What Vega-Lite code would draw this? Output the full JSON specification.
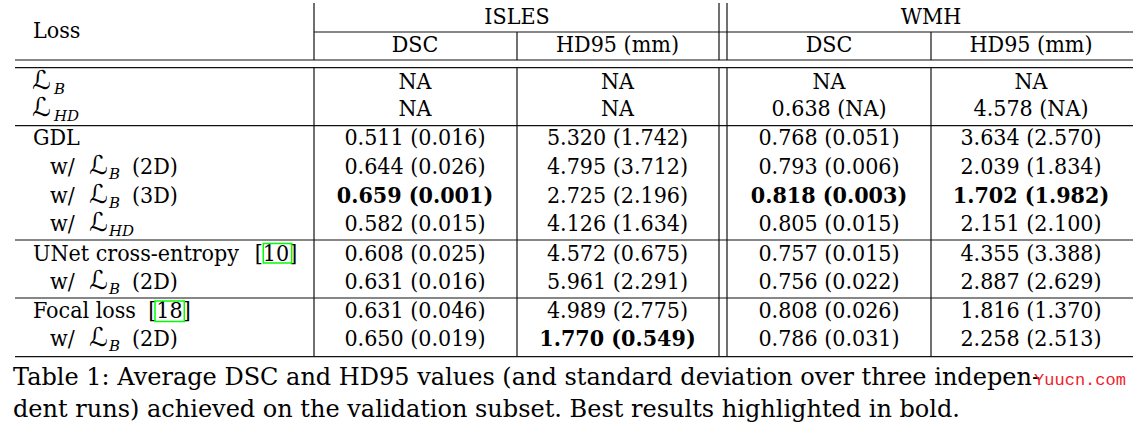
{
  "$schema": "https://vega.github.io/schema/vega-lite/v6.json",
  "width": 1140,
  "height": 433,
  "padding": 0,
  "autosize": {"type": "none"},
  "background": "white",
  "config": {
    "view": {"stroke": null},
    "text": {"font": "DejaVu Serif Condensed, DejaVu Serif", "fontSize": 23, "fill": "#000", "baseline": "middle"}
  },
  "datasets": {
    "hrules": [
      {"row": 0.54, "col": 0.5, "col2": 4.5},
      {"row": 1.4, "col": -0.5, "col2": 4.5},
      {"row": 1.6, "col": -0.5, "col2": 4.5},
      {"row": 3.6, "col": -0.5, "col2": 4.5},
      {"row": 7.6, "col": -0.5, "col2": 4.5},
      {"row": 9.6, "col": -0.5, "col2": 4.5},
      {"row": 11.6, "col": -0.5, "col2": 4.5}
    ],
    "vrules": [
      {"col": 0.5, "row": -0.5, "row2": 1.4},
      {"col": 0.5, "row": 1.6, "row2": 11.6},
      {"col": 1.5, "row": 0.54, "row2": 1.4},
      {"col": 1.5, "row": 1.6, "row2": 11.6},
      {"col": 2.45, "row": -0.5, "row2": 1.4},
      {"col": 2.45, "row": 1.6, "row2": 11.6},
      {"col": 2.55, "row": -0.5, "row2": 1.4},
      {"col": 2.55, "row": 1.6, "row2": 11.6},
      {"col": 3.5, "row": 0.54, "row2": 1.4},
      {"col": 3.5, "row": 1.6, "row2": 11.6}
    ],
    "cells": [
      {"row": 0, "col": 1.5, "text": "ISLES", "best": false},
      {"row": 0, "col": 3.5, "text": "WMH", "best": false},
      {"row": 1, "col": 1, "text": "DSC", "best": false},
      {"row": 1, "col": 2, "text": "HD95 (mm)", "best": false},
      {"row": 1, "col": 3, "text": "DSC", "best": false},
      {"row": 1, "col": 4, "text": "HD95 (mm)", "best": false},
      {"row": 2, "col": 1, "text": "NA", "best": false},
      {"row": 2, "col": 2, "text": "NA", "best": false},
      {"row": 2, "col": 3, "text": "NA", "best": false},
      {"row": 2, "col": 4, "text": "NA", "best": false},
      {"row": 3, "col": 1, "text": "NA", "best": false},
      {"row": 3, "col": 2, "text": "NA", "best": false},
      {"row": 3, "col": 3, "text": "0.638 (NA)", "best": false},
      {"row": 3, "col": 4, "text": "4.578 (NA)", "best": false},
      {"row": 4, "col": 1, "text": "0.511 (0.016)", "best": false},
      {"row": 4, "col": 2, "text": "5.320 (1.742)", "best": false},
      {"row": 4, "col": 3, "text": "0.768 (0.051)", "best": false},
      {"row": 4, "col": 4, "text": "3.634 (2.570)", "best": false},
      {"row": 5, "col": 1, "text": "0.644 (0.026)", "best": false},
      {"row": 5, "col": 2, "text": "4.795 (3.712)", "best": false},
      {"row": 5, "col": 3, "text": "0.793 (0.006)", "best": false},
      {"row": 5, "col": 4, "text": "2.039 (1.834)", "best": false},
      {"row": 6, "col": 1, "text": "0.659 (0.001)", "best": true},
      {"row": 6, "col": 2, "text": "2.725 (2.196)", "best": false},
      {"row": 6, "col": 3, "text": "0.818 (0.003)", "best": true},
      {"row": 6, "col": 4, "text": "1.702 (1.982)", "best": true},
      {"row": 7, "col": 1, "text": "0.582 (0.015)", "best": false},
      {"row": 7, "col": 2, "text": "4.126 (1.634)", "best": false},
      {"row": 7, "col": 3, "text": "0.805 (0.015)", "best": false},
      {"row": 7, "col": 4, "text": "2.151 (2.100)", "best": false},
      {"row": 8, "col": 1, "text": "0.608 (0.025)", "best": false},
      {"row": 8, "col": 2, "text": "4.572 (0.675)", "best": false},
      {"row": 8, "col": 3, "text": "0.757 (0.015)", "best": false},
      {"row": 8, "col": 4, "text": "4.355 (3.388)", "best": false},
      {"row": 9, "col": 1, "text": "0.631 (0.016)", "best": false},
      {"row": 9, "col": 2, "text": "5.961 (2.291)", "best": false},
      {"row": 9, "col": 3, "text": "0.756 (0.022)", "best": false},
      {"row": 9, "col": 4, "text": "2.887 (2.629)", "best": false},
      {"row": 10, "col": 1, "text": "0.631 (0.046)", "best": false},
      {"row": 10, "col": 2, "text": "4.989 (2.775)", "best": false},
      {"row": 10, "col": 3, "text": "0.808 (0.026)", "best": false},
      {"row": 10, "col": 4, "text": "1.816 (1.370)", "best": false},
      {"row": 11, "col": 1, "text": "0.650 (0.019)", "best": false},
      {"row": 11, "col": 2, "text": "1.770 (0.549)", "best": true},
      {"row": 11, "col": 3, "text": "0.786 (0.031)", "best": false},
      {"row": 11, "col": 4, "text": "2.258 (2.513)", "best": false}
    ],
    "loss": [
      {"row": 0.5, "col": 0, "name": "Loss"},
      {"row": 2, "col": 0, "symbol": "ℒ", "sub": "B"},
      {"row": 3, "col": 0, "symbol": "ℒ", "sub": "HD"},
      {"row": 4, "col": 0, "name": "GDL"},
      {"row": 5, "col": 0, "prefix": "w/", "symbol": "ℒ", "sub": "B", "dim": "(2D)"},
      {"row": 6, "col": 0, "prefix": "w/", "symbol": "ℒ", "sub": "B", "dim": "(3D)"},
      {"row": 7, "col": 0, "prefix": "w/", "symbol": "ℒ", "sub": "HD"},
      {"row": 8, "col": 0, "name": "UNet cross-entropy", "cite": "[10]"},
      {"row": 9, "col": 0, "prefix": "w/", "symbol": "ℒ", "sub": "B", "dim": "(2D)"},
      {"row": 10, "col": 0, "name": "Focal loss", "cite": "[18]"},
      {"row": 11, "col": 0, "prefix": "w/", "symbol": "ℒ", "sub": "B", "dim": "(2D)"}
    ],
    "caption": [
      {"row": 12, "col": -0.5, "text": "Table 1: Average DSC and HD95 values (and standard deviation over three indepen-"},
      {"row": 13, "col": -0.5, "text": "dent runs) achieved on the validation subset. Best results highlighted in bold."}
    ],
    "mark": [
      {"row": 12, "col": 4.5, "text": "Yuucn.com"}
    ]
  },
  "encoding": {
    "x": {"field": "col", "type": "quantitative", "axis": null,
      "scale": {"domain": [-0.5, 0, 0.5, 1, 1.5, 2, 2.45, 2.5, 2.55, 3, 3.5, 4, 4.5],
                "range": [15, 33, 314, 415, 517, 617.5, 719, 723, 727, 829, 931, 1031, 1133],
                "zero": false, "nice": false}},
    "y": {"field": "row", "type": "quantitative", "axis": null,
      "scale": {"domain": [-0.5, 0, 1, 1.4, 1.6, 2, 3, 3.6, 4, 5, 6, 7, 7.6, 8, 9, 9.6, 10, 11, 11.6, 12, 13],
                "range": [3, 16.7, 45, 60, 67.7, 81.5, 108.5, 125.7, 138.3, 167.3, 196, 224.3, 240, 253.5, 282, 298, 310.5, 338.7, 356.7, 377.5, 409.5],
                "zero": false, "nice": false}}
  },
  "layer": [
    {"data": {"name": "hrules"}, "mark": {"type": "rule", "stroke": "#111", "strokeWidth": 1.2},
     "encoding": {"x2": {"field": "col2"}}},
    {"data": {"name": "vrules"}, "mark": {"type": "rule", "stroke": "#111", "strokeWidth": 1.2},
     "encoding": {"y2": {"field": "row2"}}},
    {"data": {"name": "cells"}, "transform": [{"filter": "!datum.best"}],
     "mark": {"type": "text", "align": "center"},
     "encoding": {"text": {"field": "text"}}},
    {"data": {"name": "cells"}, "transform": [{"filter": "datum.best"}],
     "mark": {"type": "text", "align": "center", "fontWeight": "bold"},
     "encoding": {"text": {"field": "text"}}},
    {"data": {"name": "loss"}, "transform": [{"filter": "datum.name"}],
     "mark": {"type": "text", "align": "left"},
     "encoding": {"text": {"field": "name"}}},
    {"data": {"name": "loss"}, "transform": [{"filter": "datum.prefix"}],
     "mark": {"type": "text", "align": "left", "dx": 17},
     "encoding": {"text": {"field": "prefix"}}},
    {"data": {"name": "loss"}, "transform": [{"filter": "datum.symbol && !datum.prefix"}],
     "mark": {"type": "text", "align": "left", "dx": -1, "dy": -1, "font": "DejaVu Sans", "fontSize": 26},
     "encoding": {"text": {"field": "symbol"}}},
    {"data": {"name": "loss"}, "transform": [{"filter": "datum.symbol && datum.prefix"}],
     "mark": {"type": "text", "align": "left", "dx": 56, "dy": -1, "font": "DejaVu Sans", "fontSize": 26},
     "encoding": {"text": {"field": "symbol"}}},
    {"data": {"name": "loss"}, "transform": [{"filter": "datum.sub && !datum.prefix"}],
     "mark": {"type": "text", "align": "left", "dx": 21, "dy": 7, "font": "DejaVu Serif", "fontSize": 15, "fontStyle": "italic"},
     "encoding": {"text": {"field": "sub"}}},
    {"data": {"name": "loss"}, "transform": [{"filter": "datum.sub && datum.prefix"}],
     "mark": {"type": "text", "align": "left", "dx": 76, "dy": 7, "font": "DejaVu Serif", "fontSize": 15, "fontStyle": "italic"},
     "encoding": {"text": {"field": "sub"}}},
    {"data": {"name": "loss"}, "transform": [{"filter": "datum.dim"}],
     "mark": {"type": "text", "align": "left", "dx": 99},
     "encoding": {"text": {"field": "dim"}}},
    {"data": {"name": "loss"}, "transform": [{"filter": "datum.cite == '[10]'"}],
     "mark": {"type": "text", "align": "center", "dx": 243},
     "encoding": {"text": {"field": "cite"}}},
    {"data": {"name": "loss"}, "transform": [{"filter": "datum.cite == '[18]'"}],
     "mark": {"type": "text", "align": "center", "dx": 136.5},
     "encoding": {"text": {"field": "cite"}}},
    {"data": {"name": "loss"}, "transform": [{"filter": "datum.cite == '[10]'"}],
     "mark": {"type": "rect", "fillOpacity": 0, "stroke": "#00ff00", "strokeWidth": 1.5,
              "xOffset": 230.3, "x2Offset": 258.7, "yOffset": -10, "y2Offset": 9.5},
     "encoding": {"x2": {"field": "col"}, "y2": {"field": "row"}}},
    {"data": {"name": "loss"}, "transform": [{"filter": "datum.cite == '[18]'"}],
     "mark": {"type": "rect", "fillOpacity": 0, "stroke": "#00ff00", "strokeWidth": 1.5,
              "xOffset": 122, "x2Offset": 151.3, "yOffset": -9.5, "y2Offset": 11},
     "encoding": {"x2": {"field": "col"}, "y2": {"field": "row"}}},
    {"data": {"name": "caption"},
     "mark": {"type": "text", "align": "left", "dx": -2, "font": "DejaVu Serif", "fontSize": 24},
     "encoding": {"text": {"field": "text"}}},
    {"data": {"name": "mark"},
     "mark": {"type": "text", "align": "center", "dx": -53, "dy": 2, "font": "Liberation Mono", "fontSize": 17, "fill": "#f01c2c"},
     "encoding": {"text": {"field": "text"}}}
  ]
}
